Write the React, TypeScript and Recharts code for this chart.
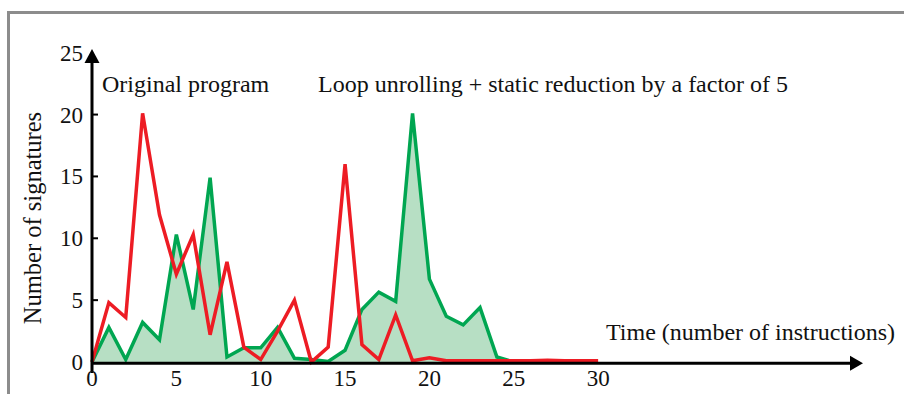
import { ComposedChart, Area, Line, XAxis, YAxis, ReferenceLine } from "recharts";

const times = [0, 1, 2, 3, 4, 5, 6, 7, 8, 9, 10, 11, 12, 13, 14, 15, 16, 17, 18, 19, 20, 21, 22, 23, 24, 25, 26, 27, 28, 29, 30];
const originalProgram = [0, 4.8, 3.6, 20.1, 11.9, 7.1, 10.3, 2.2, 8.1, 1.2, 0.2, 2.5, 5.0, 0, 1.2, 16.0, 1.4, 0.2, 3.8, 0.1, 0.35, 0.1, 0.1, 0.1, 0.1, 0.1, 0.1, 0.15, 0.1, 0.1, 0.1];
const loopUnrolled = [0, 2.8, 0.2, 3.2, 1.8, 10.3, 4.25, 14.9, 0.4, 1.15, 1.15, 2.8, 0.3, 0.2, 0.05, 0.95, 4.25, 5.65, 4.9, 20.1, 6.7, 3.7, 3.0, 4.4, 0.4, 0, null, null, null, null, null];
const xTicks = [0, 5, 10, 15, 20, 25, 30];
const yTicks = [0, 5, 10, 15, 20, 25];

const X_MAX = 45.7;
const Y_MAX = 25.3;
const FONT = "'Liberation Serif', 'Times New Roman', serif";
const GREEN = "#00a651";
const RED = "#ed1c24";

const data = times.map((t, i) => ({ t, original: originalProgram[i], unrolled: loopUnrolled[i] }));

function YTick({ x, y, payload }: any) {
  return (
    <g>
      {payload.value > 0 && payload.value < 25 && (
        <line x1={x} x2={x + 6} y1={y} y2={y} stroke="#000" strokeWidth={2} />
      )}
      <text x={x - 9} y={y + 8} textAnchor="end" fontFamily={FONT} fontSize={23} fill="#111">
        {payload.value}
      </text>
    </g>
  );
}

function XTick({ x, y, payload }: any) {
  return (
    <text x={x} y={y + 24} textAnchor="middle" fontFamily={FONT} fontSize={23} fill="#111">
      {payload.value}
    </text>
  );
}

// axis line drawn from the reference segment, with a filled arrow head at its end
function ArrowAxis(props: any) {
  const { x1, y1, x2, y2 } = props;
  const vertical = Math.abs(x1 - x2) < 1;
  const head = vertical
    ? `${x2},${y2} ${x2 - 7.5},${y2 + 14} ${x2 + 7.5},${y2 + 14}`
    : `${x2},${y2} ${x2 - 13},${y2 - 7.5} ${x2 - 13},${y2 + 7.5}`;
  return (
    <g>
      <line
        x1={x1}
        y1={vertical ? y1 + 6 : y1}
        x2={vertical ? x2 : x2 - 10}
        y2={vertical ? y2 + 10 : y2}
        stroke="#000"
        strokeWidth={3}
      />
      <polygon points={head} fill="#000" />
    </g>
  );
}

export default function App() {
  return (
    <div style={{ position: "absolute", left: 0, top: 0, width: 904, height: 394, background: "#fff", overflow: "hidden" }}>
      <div
        style={{
          position: "absolute",
          left: 7,
          top: 11,
          width: 1000,
          height: 500,
          borderTop: "3px solid #8c8c8c",
          borderLeft: "3px solid #8c8c8c",
        }}
      />
      <div style={{ position: "absolute", left: 0, top: 0 }}>
        <ComposedChart width={904} height={394} data={data} margin={{ top: 49, right: 41, bottom: 2, left: 32 }}>
          <XAxis
            dataKey="t"
            type="number"
            domain={[0, X_MAX]}
            ticks={xTicks}
            axisLine={false}
            tickLine={false}
            tickSize={0}
            tickMargin={0}
            height={30}
            tick={<XTick />}
            interval={0}
          />
          <YAxis
            type="number"
            domain={[0, Y_MAX]}
            ticks={yTicks}
            axisLine={false}
            tickLine={false}
            tickSize={0}
            tickMargin={0}
            width={60}
            tick={<YTick />}
            interval={0}
          />
          <Area
            dataKey="unrolled"
            type="linear"
            stroke={GREEN}
            strokeWidth={3.5}
            strokeLinejoin="miter"
            fill="#b7dfc4"
            fillOpacity={1}
            isAnimationActive={false}
            dot={false}
            activeDot={false}
          />
          <Line
            dataKey="original"
            type="linear"
            stroke={RED}
            strokeWidth={3.5}
            strokeLinejoin="miter"
            isAnimationActive={false}
            dot={false}
            activeDot={false}
          />
          <ReferenceLine segment={[{ x: 0, y: -0.1 }, { x: X_MAX, y: -0.1 }]} ifOverflow="visible" shape={<ArrowAxis />} />
          <ReferenceLine segment={[{ x: 0, y: -0.4 }, { x: 0, y: Y_MAX }]} ifOverflow="visible" shape={<ArrowAxis />} />
          <text x={102} y={92} fontFamily={FONT} fontSize={24} fill="#111">Original program</text>
          <text x={318} y={92} fontFamily={FONT} fontSize={24} fill="#111">
            Loop unrolling + static reduction by a factor of 5
          </text>
          <text x={606} y={340} fontFamily={FONT} fontSize={24} fill="#111">Time (number of instructions)</text>
          <text
            x={41}
            y={218}
            transform="rotate(-90 41 218)"
            textAnchor="middle"
            fontFamily={FONT}
            fontSize={24.5}
            fill="#111"
          >
            Number of signatures
          </text>
        </ComposedChart>
      </div>
    </div>
  );
}
